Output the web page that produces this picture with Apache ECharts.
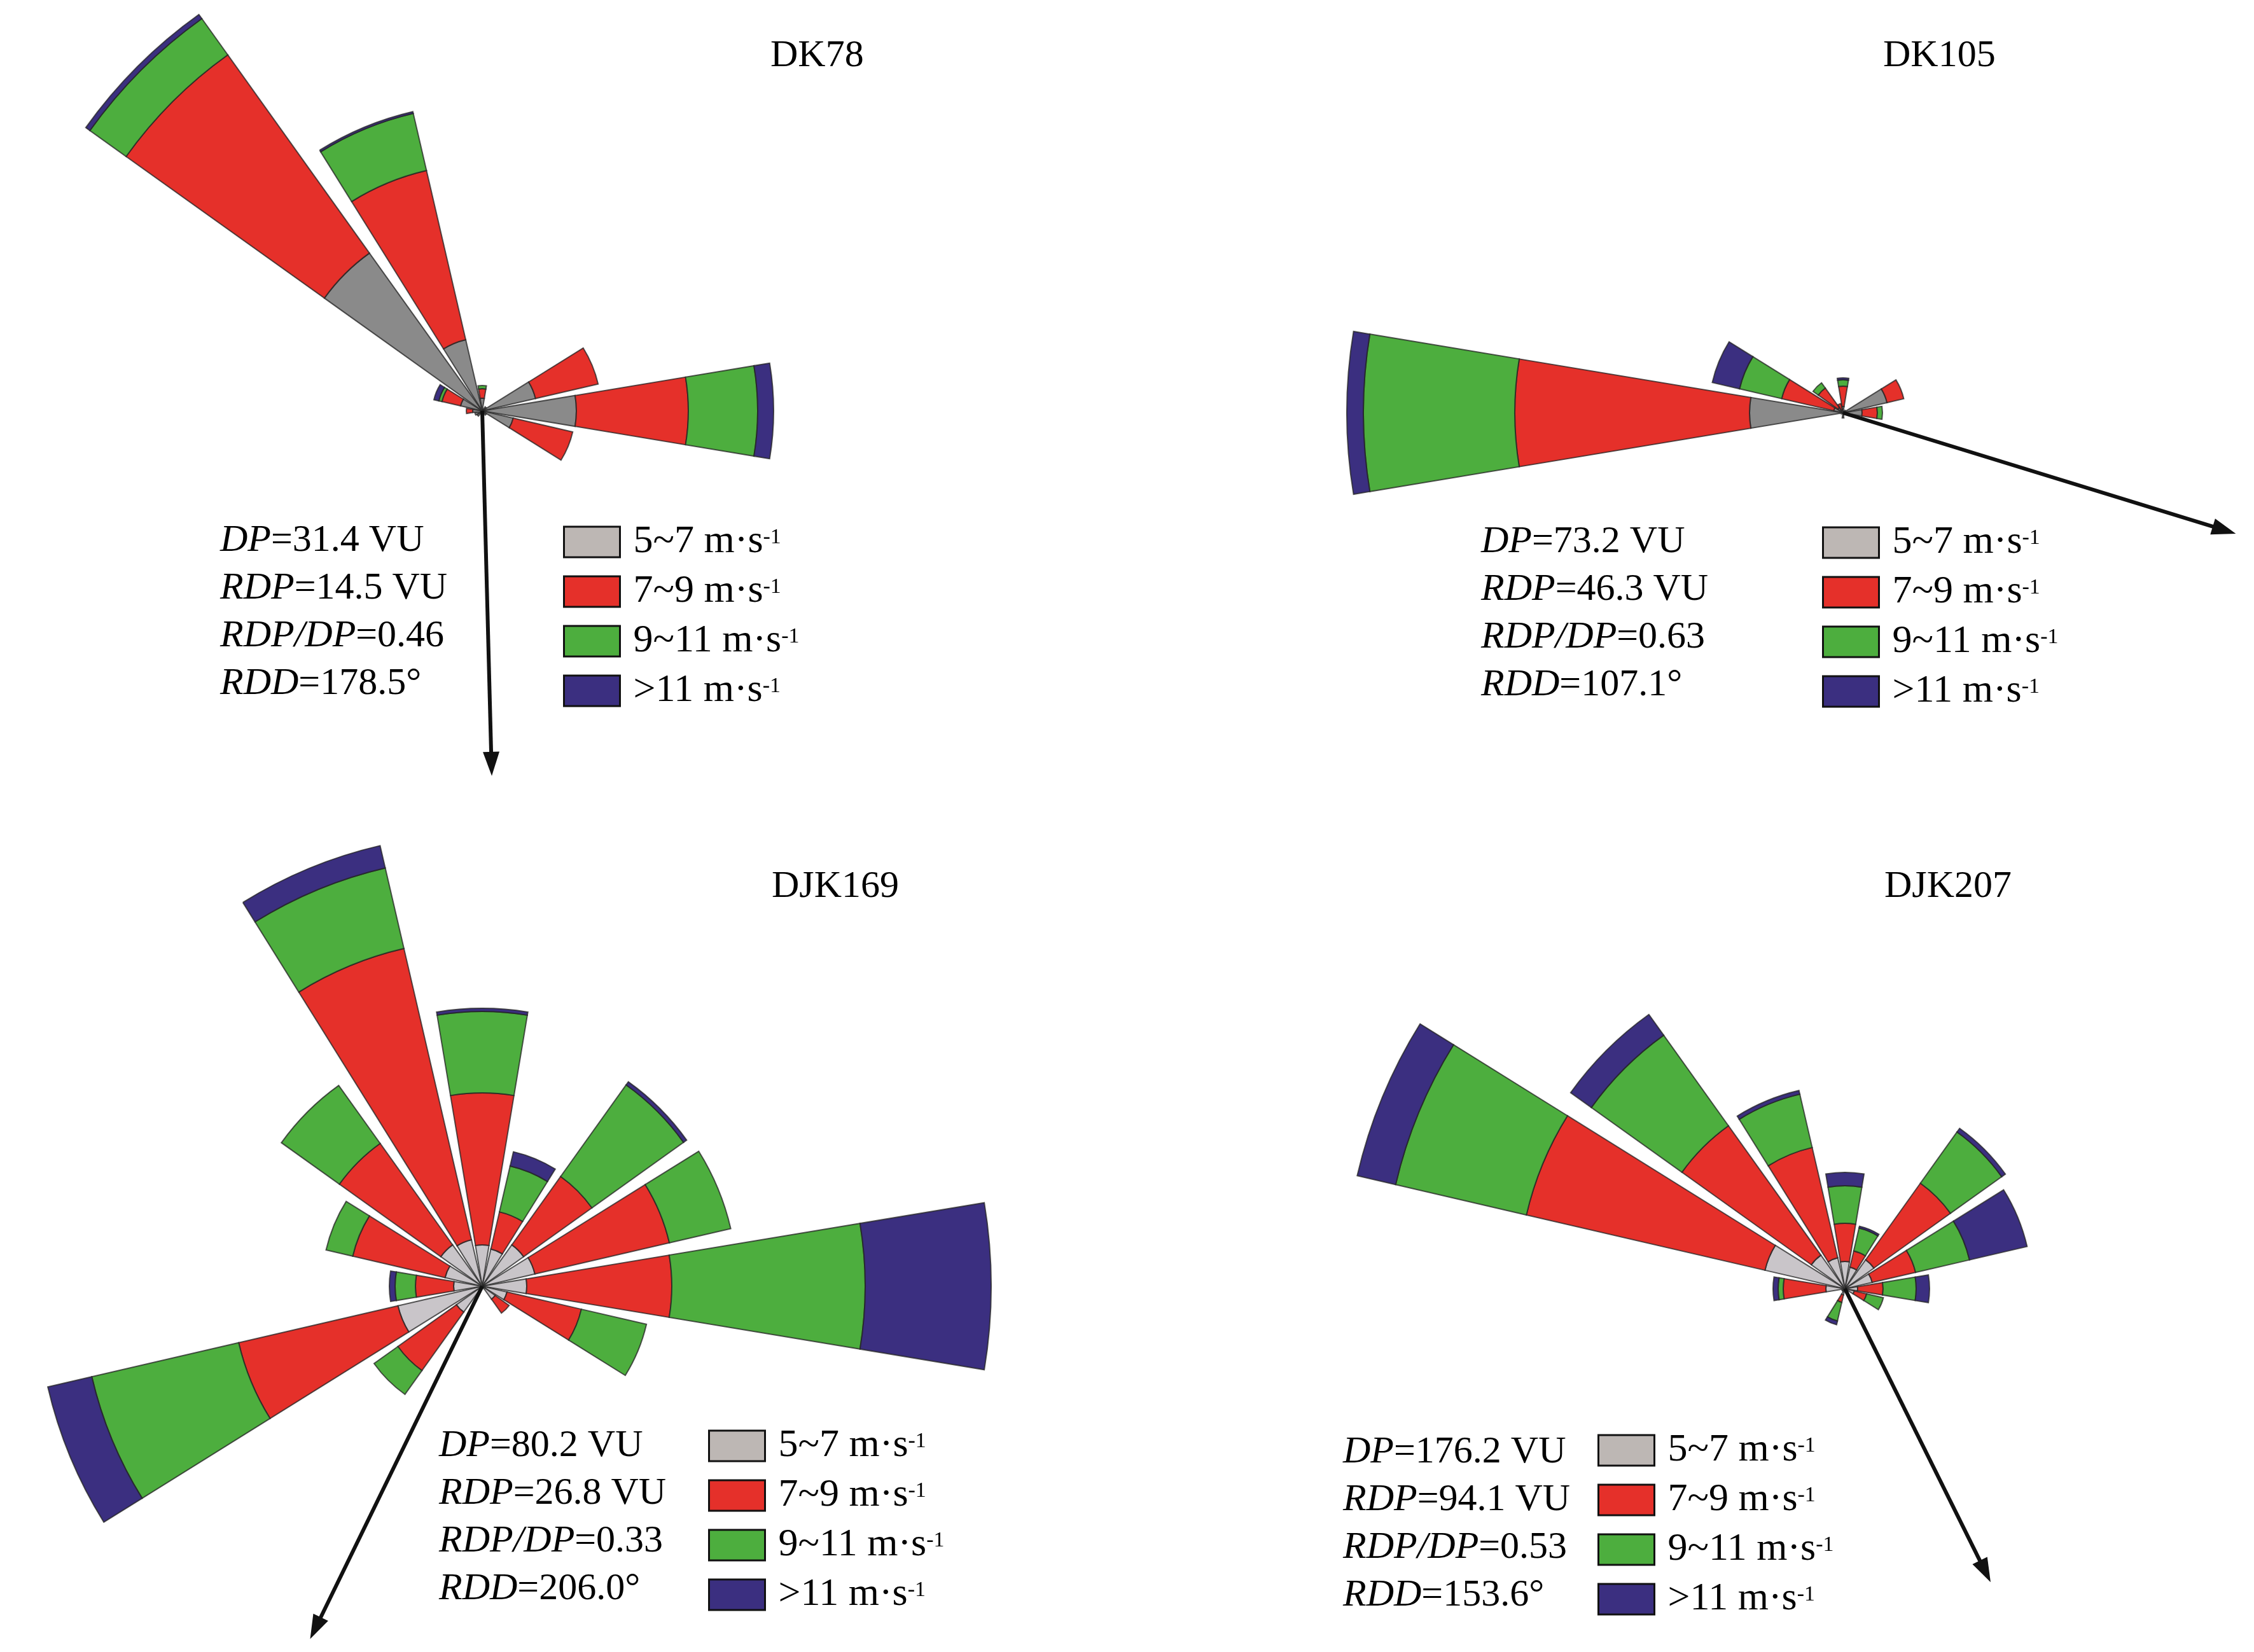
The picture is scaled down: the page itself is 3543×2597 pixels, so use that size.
<!DOCTYPE html>
<html>
<head>
<meta charset="utf-8">
<script src="https://cdn.jsdelivr.net/npm/echarts@6/dist/echarts.min.js"></script>
<style>
html,body{margin:0;padding:0;background:#fff;}
#chart{width:3543px;height:2597px;}
</style>
</head>
<body>
<div id="chart"></div>
<script>
// ---------------- DATA ----------------
const stations = ['DK78', 'DK105', 'DJK169', 'DJK207'];
const directions = ['N','NNE','NE','ENE','E','ESE','SE','SSE','S','SSW','SW','WSW','W','WNW','NW','NNW'];
const speedClasses = ['5~7', '7~9', '9~11', '>11'];

// radial lengths per direction (relative units), N..NNW
const dk78_5_7   = [2.0, 0, 0.8, 8.6, 14.8, 5.0, 0.8, 0, 0, 0.5, 1.0, 1.2, 1.5, 3.5, 30.5, 11.5];
const dk78_7_9   = [1.5, 0, 0, 10.1, 17.6, 9.6, 0, 0, 0, 0, 0, 0, 1.0, 3.0, 38.3, 27.3];
const dk78_9_11  = [0.5, 0, 0, 0, 10.9, 0, 0, 0, 0, 0, 0, 0, 0, 0.5, 7.0, 9.2];
const dk78_11    = [0, 0, 0, 0, 2.5, 0, 0, 0, 0, 0, 0, 0, 0, 0.8, 0.8, 0.3];

const dk105_5_7  = [1.0, 0, 0.5, 7.1, 3.0, 0.5, 0, 0, 0.8, 0, 0, 0, 14.7, 1.5, 1.0, 0.5];
const dk105_7_9  = [3.2, 0, 0, 2.7, 2.4, 0, 0, 0, 0, 0, 0, 0, 36.9, 8.4, 3.8, 1.0];
const dk105_9_11 = [1.0, 0, 0, 0, 0.8, 0, 0, 0, 0, 0, 0, 0, 23.8, 6.8, 1.0, 0];
const dk105_11   = [0.3, 0, 0, 0, 0, 0, 0, 0, 0, 0, 0, 0, 2.6, 4.4, 0, 0];

const djk169_5_7  = [6.5, 6.0, 8.0, 8.5, 7.0, 4.0, 2.5, 0, 0, 0, 5.0, 13.6, 4.5, 6.0, 8.0, 7.5];
const djk169_7_9  = [23.9, 6.0, 13.2, 21.7, 22.8, 12.0, 2.7, 0, 0, 0, 11.3, 25.7, 6.0, 14.9, 19.6, 47.0];
const djk169_9_11 = [12.8, 7.4, 17.7, 9.9, 30.4, 10.5, 0, 0, 0, 0, 4.6, 23.7, 3.2, 4.3, 11.2, 13.0];
const djk169_11   = [0.5, 2.3, 0.6, 0, 19.8, 0, 0, 0, 0, 0, 0, 7.1, 0.9, 0, 0, 3.6];

const djk207_5_7  = [4.3, 3.5, 5.6, 4.4, 2.0, 1.5, 0.5, 0, 0, 1.0, 0.5, 0.5, 3.0, 12.9, 6.5, 5.0];
const djk207_7_9  = [6.0, 2.6, 14.8, 7.0, 4.0, 2.0, 0, 0, 0, 1.2, 0, 0, 6.7, 38.5, 25.0, 17.8];
const djk207_9_11 = [5.9, 3.7, 9.9, 8.7, 5.2, 2.7, 0, 0, 0, 3.0, 0, 0, 0.8, 21.1, 17.5, 8.6];
const djk207_11   = [2.1, 0.3, 0.7, 9.3, 2.1, 0, 0, 0, 0, 0.6, 0, 0, 0.8, 6.2, 4.0, 0.6];

// drift statistics
const DP    = [31.4, 73.2, 80.2, 176.2];
const RDP   = [14.5, 46.3, 26.8, 94.1];
const RATIO = [0.46, 0.63, 0.33, 0.53];
const RDD   = [178.5, 107.1, 206.0, 153.6];
const arrowLen = [57.4, 64.6, 61.7, 51.5];

// ---------------- LAYOUT / STYLE ----------------
const roseData = [
  [dk78_5_7, dk78_7_9, dk78_9_11, dk78_11],
  [dk105_5_7, dk105_7_9, dk105_9_11, dk105_11],
  [djk169_5_7, djk169_7_9, djk169_9_11, djk169_11],
  [djk207_5_7, djk207_7_9, djk207_9_11, djk207_11]
];
const centers = [[758, 646], [2897, 649], [758, 2022], [2900, 2026]];
const R_PX = 1000, R_MAX = 100;
const FONT = "'Liberation Serif','Times New Roman',serif";
const grayBar = ['#8a8a8a', '#8a8a8a', '#c9c5c9', '#c9c5c9'];
const colRed = '#e5302a', colGreen = '#4dae3e', colBlue = '#3b2f80', colLegendGray = '#bdb7b4';
const titlePos = [[1211, 58], [2960, 58], [1213, 1364], [2962, 1364]];
const statsPos = [[346, 813], [2328, 815], [690, 2236], [2111, 2246]];
const legendPos = [[885, 821], [2864, 822], [1113, 2242], [2511, 2249]];

const polar = [], angleAxis = [], radiusAxis = [], series = [];
centers.forEach((c, k) => {
  polar.push({ center: c, radius: [0, R_PX] });
  angleAxis.push({
    polarIndex: k, type: 'category', data: directions, startAngle: 90 + 11.25, clockwise: true,
    axisLine: { show: false }, axisTick: { show: false }, axisLabel: { show: false }, splitLine: { show: false }
  });
  radiusAxis.push({
    polarIndex: k, type: 'value', min: 0, max: R_MAX,
    axisLine: { show: false }, axisTick: { show: false }, axisLabel: { show: false }, splitLine: { show: false }
  });
});
// arrow polars (value angle axis, bearing in degrees)
centers.forEach((c, k) => {
  polar.push({ center: c, radius: [0, R_PX] });
  angleAxis.push({
    polarIndex: 4 + k, type: 'value', min: 0, max: 360, startAngle: 90, clockwise: true,
    axisLine: { show: false }, axisTick: { show: false }, axisLabel: { show: false }, splitLine: { show: false }
  });
  radiusAxis.push({
    polarIndex: 4 + k, type: 'value', min: 0, max: R_MAX,
    axisLine: { show: false }, axisTick: { show: false }, axisLabel: { show: false }, splitLine: { show: false }
  });
});

roseData.forEach((arrs, k) => {
  const cols = [grayBar[k], colRed, colGreen, colBlue];
  arrs.forEach((arr, s) => {
    series.push({
      type: 'bar', coordinateSystem: 'polar', polarIndex: k, stack: 'rose' + k,
      name: speedClasses[s],
      data: arr.map(v => v > 0 ? v : null),
      barCategoryGap: '16%',
      silent: true, animation: false,
      itemStyle: { color: cols[s], borderColor: 'rgba(35,35,35,0.75)', borderWidth: 2 }
    });
  });
});

RDD.forEach((a, k) => {
  series.push({
    type: 'custom', coordinateSystem: 'polar', polarIndex: 4 + k, z: 10,
    silent: true, animation: false,
    data: [[arrowLen[k], a]],
    renderItem: function (params, api) {
      const r = api.value(0), ang = api.value(1);
      const p0 = api.coord([0, ang]), p1 = api.coord([r, ang]);
      const dx = p1[0] - p0[0], dy = p1[1] - p0[1];
      const L = Math.hypot(dx, dy), ux = dx / L, uy = dy / L;
      const head = 38, hw = 13;
      const bx = p1[0] - ux * head, by = p1[1] - uy * head;
      return {
        type: 'group', children: [
          { type: 'line', shape: { x1: p0[0], y1: p0[1], x2: bx + ux * 4, y2: by + uy * 4 }, style: { stroke: '#111', lineWidth: 6 } },
          { type: 'polygon', shape: { points: [[p1[0], p1[1]], [bx - uy * hw, by + ux * hw], [bx + uy * hw, by - ux * hw]] }, style: { fill: '#111' } }
        ]
      };
    }
  });
});

const txt = { fontFamily: FONT, fontSize: 60, lineHeight: 75, color: '#000', fontWeight: 'normal' };
const title = [];
stations.forEach((s, k) => {
  title.push({ text: s, left: titlePos[k][0], top: titlePos[k][1], padding: 0,
    textStyle: { fontFamily: FONT, fontSize: 60, fontWeight: 'normal', color: '#000' } });
  const t = '{i|DP}{n|=' + DP[k].toFixed(1) + ' VU}\n' +
            '{i|RDP}{n|=' + RDP[k].toFixed(1) + ' VU}\n' +
            '{i|RDP/DP}{n|=' + RATIO[k].toFixed(2) + '}\n' +
            '{i|RDD}{n|=' + RDD[k].toFixed(1) + '°}';
  title.push({ text: t, left: statsPos[k][0], top: statsPos[k][1], padding: 0,
    textStyle: Object.assign({}, txt, { rich: { i: Object.assign({}, txt, { fontStyle: 'italic' }), n: Object.assign({}, txt) } }) });
});

const legendColors = [colLegendGray, colRed, colGreen, colBlue];
const legend = legendPos.map(p => ({
  orient: 'vertical', left: p[0], top: p[1], padding: 0,
  itemWidth: 88, itemHeight: 48, itemGap: 16, icon: 'rect', selectedMode: false,
  data: speedClasses.map((n, i) => ({ name: n, itemStyle: { color: legendColors[i], borderColor: '#111', borderWidth: 3 } })),
  formatter: n => '{t|' + n + ' m·s}{s|-1}',
  textStyle: {
    fontFamily: FONT, fontSize: 60, color: '#000',
    rich: {
      t: { fontFamily: FONT, fontSize: 62, lineHeight: 48, color: '#000', padding: [0, 0, 0, 16] },
      s: { fontFamily: FONT, fontSize: 34, lineHeight: 48, color: '#000', verticalAlign: 'top' }
    }
  }
}));

const chart = echarts.init(document.getElementById('chart'), null, { renderer: 'canvas' });
chart.setOption({
  backgroundColor: '#fff',
  animation: false,
  title: title,
  legend: legend,
  polar: polar,
  angleAxis: angleAxis,
  radiusAxis: radiusAxis,
  series: series
});
</script>
</body>
</html>
